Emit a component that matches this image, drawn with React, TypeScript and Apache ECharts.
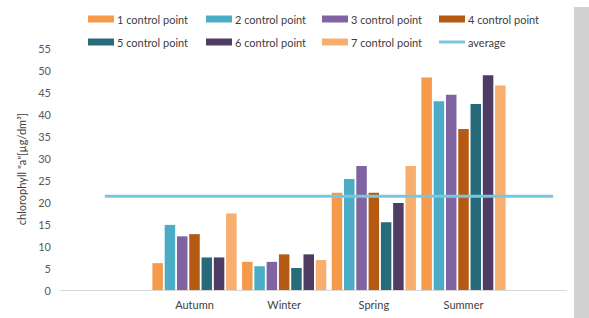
import React, { useEffect, useRef } from "react";
import * as echarts from "echarts";

const seasons = ["Autumn", "Winter", "Spring", "Summer"];
const seriesNames = [
  "1 control point",
  "2 control point",
  "3 control point",
  "4 control point",
  "5 control point",
  "6 control point",
  "7 control point",
];
const point1 = [6.1, 6.4, 22.1, 48.3];
const point2 = [14.8, 5.4, 25.2, 42.9];
const point3 = [12.2, 6.4, 28.2, 44.4];
const point4 = [12.7, 8.1, 22.1, 36.6];
const point5 = [7.4, 5.0, 15.4, 42.3];
const point6 = [7.4, 8.1, 19.8, 48.8];
const point7 = [17.4, 6.8, 28.2, 46.5];
const averageValue = 21.3;
const yTicks = [0, 55, 5]; // min, max, interval

const colors = ["#F59A4A", "#4BACC6", "#8064A2", "#B55A12", "#276B7B", "#4E3C64", "#F8AE6E"];
const avgColor = "#79C7DC";
const FONT = "Lato, 'Open Sans', sans-serif";

export default function App() {
  const ref = useRef<HTMLDivElement>(null);
  useEffect(() => {
    if (!ref.current) return;
    const chart = echarts.init(ref.current, null, { renderer: "svg" });
    const cats = ["", ...seasons, ""];
    const all = [point1, point2, point3, point4, point5, point6, point7];
    const barSeries = all.map((vals, i) => ({
      name: seriesNames[i],
      type: "bar",
      data: [null, ...vals, null],
      barWidth: 10.5,
      barGap: "17%",
      itemStyle: { color: colors[i] },
    }));
    const avgSeries = {
      name: "average",
      type: "line",
      data: cats.map(() => averageValue),
      symbol: "none",
      lineStyle: { color: avgColor, width: 3 },
      itemStyle: { color: avgColor },
      z: 5,
    };
    const columns = [
      [seriesNames[0], seriesNames[4]],
      [seriesNames[1], seriesNames[5]],
      [seriesNames[2], seriesNames[6]],
      [seriesNames[3], "average"],
    ];
    const colLeft = [88, 206, 322, 439];
    const legends = columns.map((names, c) => ({
      left: colLeft[c],
      top: 12,
      padding: 0,
      orient: "vertical",
      itemWidth: 26,
      itemHeight: 7,
      itemGap: 9,
      textStyle: { fontSize: 11, lineHeight: 14, color: "#404040", fontFamily: FONT, padding: [0, 0, 0, -2] },
      data: names.map((n) =>
        n === "average"
          ? { name: n, icon: "path://M0,0h26v3h-26z", itemStyle: { color: avgColor } }
          : { name: n, icon: "rect" }
      ),
    }));
    chart.setOption({
      animation: false,
      backgroundColor: "#ffffff",
      textStyle: { fontFamily: FONT },
      legend: legends,
      grid: { left: 60, top: 48, width: 538, height: 242 },
      xAxis: {
        type: "category",
        data: cats,
        axisTick: { show: false },
        axisLine: { lineStyle: { color: "#D9D9D9", width: 1 } },
        axisLabel: { fontSize: 11, color: "#404040", margin: 9, fontFamily: FONT },
      },
      yAxis: {
        type: "value",
        min: yTicks[0],
        max: yTicks[1],
        interval: yTicks[2],
        splitLine: { show: false },
        axisLine: { show: false },
        axisTick: { show: false },
        axisLabel: { fontSize: 11, color: "#595959", margin: 9, fontFamily: FONT },
        name: 'chlorophyll "a"[µg/dm³]',
        nameLocation: "middle",
        nameGap: 32,
        nameTextStyle: { fontSize: 11, color: "#404040", fontFamily: FONT },
      },
      graphic: [
        { type: "rect", z: 100, shape: { x: 567, y: 284, width: 8, height: 12 }, style: { fill: "#ffffff" } },
        { type: "rect", z: 100, shape: { x: 574, y: 7, width: 40, height: 311 }, style: { fill: "#D2D2D2" } },
      ],
      series: [...barSeries, avgSeries],
    });
    return () => chart.dispose();
  }, []);
  return (
    <div
      ref={ref}
      style={{ position: "fixed", left: 0, top: 0, width: 610, height: 318 }}
    />
  );
}
